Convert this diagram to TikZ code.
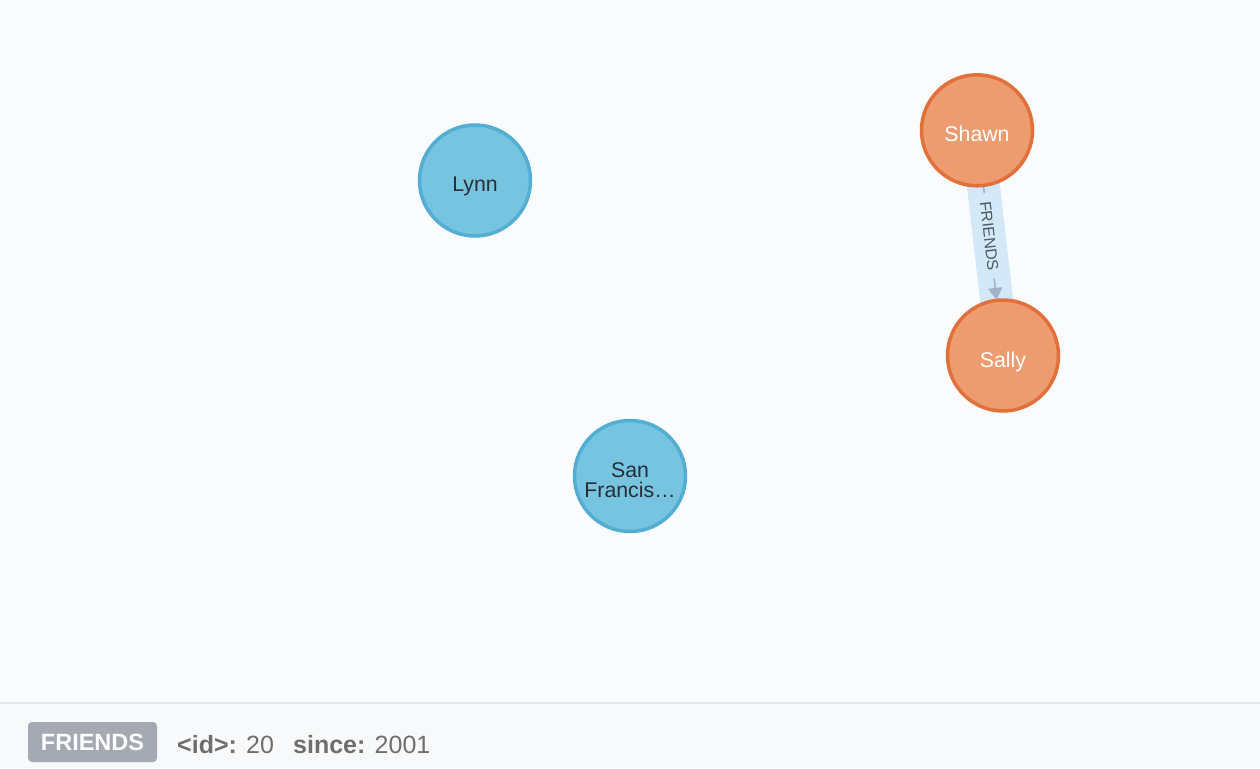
\documentclass[tikz,border=0pt]{standalone}
\usepackage{fontspec}
\setmainfont{Liberation Sans}
\usetikzlibrary{calc,arrows.meta}
\definecolor{bgcol}{HTML}{FAFBFD}
\definecolor{barbg}{HTML}{F8F9FA}
\definecolor{barline}{HTML}{E2E4E9}
\definecolor{bluefill}{HTML}{76C4E0}
\definecolor{blueline}{HTML}{52AED3}
\definecolor{orangefill}{HTML}{EC9C6F}
\definecolor{orangeline}{HTML}{E2703A}
\definecolor{darktext}{HTML}{2B2D33}
\definecolor{bandcol}{HTML}{D4E9F8}
\definecolor{edgecol}{HTML}{A3B2C8}
\definecolor{elabelcol}{HTML}{4C5868}
\definecolor{badgecol}{HTML}{A5A9B2}
\definecolor{propcol}{HTML}{6E6E6E}
\tikzset{
  gnode/.style={circle, inner sep=0pt, minimum size=111pt, line width=3.5pt},
  bluenode/.style={gnode, fill=bluefill, draw=blueline},
  orangenode/.style={gnode, fill=orangefill, draw=orangeline},
  btext/.style={anchor=base, inner sep=0pt, text=darktext, font=\fontsize{21.3}{21}\selectfont},
  otext/.style={anchor=base, inner sep=0pt, text=white, font=\fontsize{21.3}{21}\selectfont},
  band/.style={draw=bandcol, line width=33pt},
  edgeline/.style={draw=edgecol, line width=1.6pt},
  elabel/.style={inner sep=0pt, text=elabelcol, font=\fontsize{15.8}{15.8}\selectfont},
  badge/.style={fill=badgecol, rounded corners=4pt, minimum width=129pt, minimum height=40pt, inner sep=0pt, text=white, font=\fontsize{23.5}{23.5}\selectfont\bfseries},
  prop/.style={anchor=base west, inner sep=0pt, text=propcol, font=\fontsize{25}{25}\selectfont}
}
\begin{document}
\begin{tikzpicture}[x=1pt,y=-1pt]
\useasboundingbox (0,0) rectangle (1260,768);
\fill[bgcol] (0,0) rectangle (1260,768);
\fill[barbg] (0,703) rectangle (1260,768);
\draw[barline, line width=1.5pt] (0,703) -- (1260,703);

% relationship band
\coordinate (shc) at (977,130.3);
\coordinate (sac) at (1003,355.5);
\draw[band] (shc) -- (sac);

% nodes
\node[bluenode] (lynn) at (475,180.5) {};
\node[orangenode] (shawn) at (shc) {};
\node[orangenode] (sally) at (sac) {};
\node[bluenode] (sf) at (630,476) {};

\node[btext] (lynnt) at (475,191.7) {Lynn};
\node[otext] (shawnt) at (977,141.7) {Shawn};
\node[otext] (sallyt) at (1003,367.5) {Sally};
\node[btext] (sft1) at (630,477) {San};
\node[btext] (sft2) at (630,497) {Francis…};

% relationship line
\coordinate (e0) at ($(shc)!57pt!(sac)$);
\coordinate (e1) at ($(shc)!63pt!(sac)$);
\coordinate (e2) at ($(shc)!149pt!(sac)$);
\coordinate (e3) at ($(sac)!56pt!(shc)$);
\draw[edgeline] (e0) -- (e1);
\draw[edgeline, -{Triangle[length=12pt, width=14pt]}] (e2) -- (e3);
\node[elabel, rotate=-83.4] (flab) at ($(shc)!106.5pt!(sac)$) {FRIENDS};

% bottom bar
\node[badge] (badge) at (92.5,742) {FRIENDS};
\node[prop] (idp) at (177,753) {\bfseries <id>:\mdseries{} 20};
\node[prop] (sincep) at (293,753) {\bfseries since:\mdseries{} 2001};
\end{tikzpicture}
\end{document}
